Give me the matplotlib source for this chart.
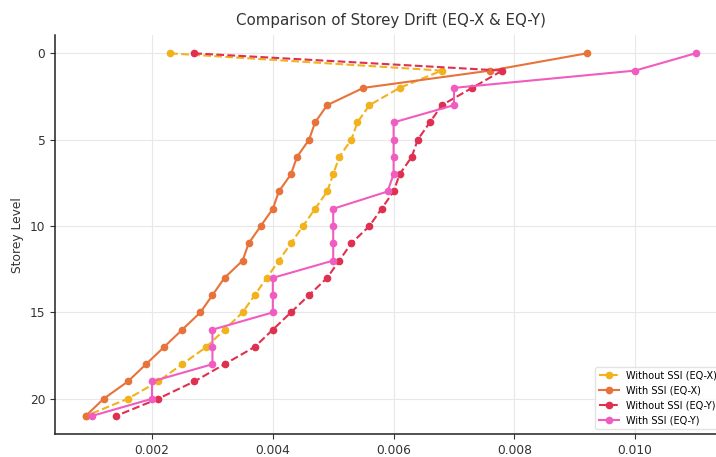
import numpy as np
import matplotlib
matplotlib.use("Agg")
import matplotlib.pyplot as plt

#######################################################################################
# DATA (storey drift, levels 0..21)
#######################################################################################
levels = list(range(22))

drift_without_ssi_x = [0.0023, 0.0068, 0.0061, 0.0056, 0.0054, 0.0053, 0.0051, 0.0050,
                       0.0049, 0.0047, 0.0045, 0.0043, 0.0041, 0.0039, 0.0037, 0.0035,
                       0.0032, 0.0029, 0.0025, 0.0021, 0.0016, 0.0009]
drift_with_ssi_x = [0.0092, 0.0076, 0.0055, 0.0049, 0.0047, 0.0046, 0.0044, 0.0043,
                    0.0041, 0.0040, 0.0038, 0.0036, 0.0035, 0.0032, 0.0030, 0.0028,
                    0.0025, 0.0022, 0.0019, 0.0016, 0.0012, 0.0009]
drift_without_ssi_y = [0.0027, 0.0078, 0.0073, 0.0068, 0.0066, 0.0064, 0.0063, 0.0061,
                       0.0060, 0.0058, 0.0056, 0.0053, 0.0051, 0.0049, 0.0046, 0.0043,
                       0.0040, 0.0037, 0.0032, 0.0027, 0.0021, 0.0014]
drift_with_ssi_y = [0.011, 0.010, 0.007, 0.007, 0.006, 0.006, 0.006, 0.006,
                    0.0059, 0.005, 0.005, 0.005, 0.005, 0.004, 0.004, 0.004,
                    0.003, 0.003, 0.003, 0.002, 0.002, 0.001]
#######################################################################################

series = [
    ("Without SSI (EQ-X)", drift_without_ssi_x, "#f2b21c", "--"),
    ("With SSI (EQ-X)", drift_with_ssi_x, "#e8733a", "-"),
    ("Without SSI (EQ-Y)", drift_without_ssi_y, "#e0304f", "--"),
    ("With SSI (EQ-Y)", drift_with_ssi_y, "#f05cc0", "-"),
]

fig = plt.figure(figsize=(7.16, 4.57), dpi=100)
ax = fig.add_axes([0.077, 0.050, 0.937, 0.873])

for label, drift, color, ls in series:
    ax.plot(drift, levels, linestyle=ls, marker="o", markersize=4.5,
            linewidth=1.5, color=color, label=label)

ax.invert_yaxis()
ax.set_yticks([0, 5, 10, 15, 20])
ax.set_xticks([0.002, 0.004, 0.006, 0.008, 0.010])
ax.tick_params(labelsize=8.8, colors="#333333")
ax.grid(True, color="#e8e8e8", linewidth=0.8)
ax.set_axisbelow(True)
for side in ("top", "right"):
    ax.spines[side].set_visible(False)
for side in ("left", "bottom"):
    ax.spines[side].set_color("#222222")
    ax.spines[side].set_linewidth(1.1)

ax.set_title("Comparison of Storey Drift (EQ-X & EQ-Y)", fontsize=10.8, color="#333333", pad=7)
ax.set_ylabel("Storey Level", fontsize=8.8, color="#333333")
ax.set_xlabel("Storey Drift", fontsize=8.8, color="#333333")
ax.legend(loc="lower right", fontsize=7, frameon=True, edgecolor="#dddddd")

fig.savefig("out.png", dpi=100)
